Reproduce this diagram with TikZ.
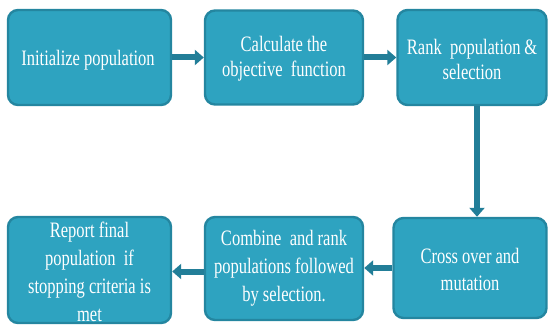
\documentclass[tikz,border=0pt]{standalone}
\usepackage{fontspec}
\setmainfont{Liberation Serif}[FakeStretch=0.75]
\usetikzlibrary{arrows.meta}
\definecolor{boxfill}{RGB}{46,163,192}
\definecolor{boxline}{RGB}{36,134,160}
\definecolor{arrowc}{RGB}{34,126,152}
\begin{document}
\begin{tikzpicture}[x=1pt,y=-1pt,
  box/.style={draw=boxline, fill=boxfill, line width=2.4pt, rounded corners=10pt, inner sep=0pt},
  txt/.style={text=white, align=center, font=\fontsize{22}{27}\selectfont, inner sep=0pt},
  flow/.style={draw=arrowc, line width=6pt, -{Triangle[length=9pt,width=15pt]}}]
\useasboundingbox (0,0) rectangle (548,326);
% boxes
\node[box, minimum width=163pt, minimum height=95pt] (b1) at (89.5,57.5) {};
\node[box, minimum width=158pt, minimum height=94pt] (b2) at (284,57.5) {};
\node[box, minimum width=149pt, minimum height=95pt] (b3) at (472,57.5) {};
\node[box, minimum width=153pt, minimum height=100pt] (b6) at (470,268) {};
\node[box, minimum width=158pt, minimum height=103pt] (b5) at (284,268.5) {};
\node[box, minimum width=163pt, minimum height=106pt] (b4) at (89.5,270) {};
% texts
\node[txt] (t1) at (88,60) {Initialize population};
\node[txt, font=\fontsize{22}{25}\selectfont] (t2) at (284,59) {Calculate the\\objective\ \ function};
\node[txt, font=\fontsize{22}{25}\selectfont] (t3) at (472,59) {Rank\ \ population\,\&\\selection};
\node[txt] (t6) at (470,269) {Cross over and\\mutation};
\node[txt, font=\fontsize{22}{28}\selectfont] (t5) at (284,268) {Combine\ \ and rank\\populations followed\\by selection.};
\node[txt, font=\fontsize{22}{28}\selectfont] (t4) at (89.5,272) {Report final\\population\ \ if\\stopping criteria is\\met};
% connectors
\draw[flow] (b1.east) -- (b2.west);
\draw[flow] (b2.east) -- (b3.west);
\draw[flow] ([xshift=5pt]b3.south) -- ([xshift=5pt]b3.south |- b6.north);
\draw[flow] (b6.west) -- (b6.west -| b5.east);
\draw[flow] ([yshift=-3pt]b5.west) -- ([yshift=-3pt]b5.west -| b4.east);
\end{tikzpicture}
\end{document}
